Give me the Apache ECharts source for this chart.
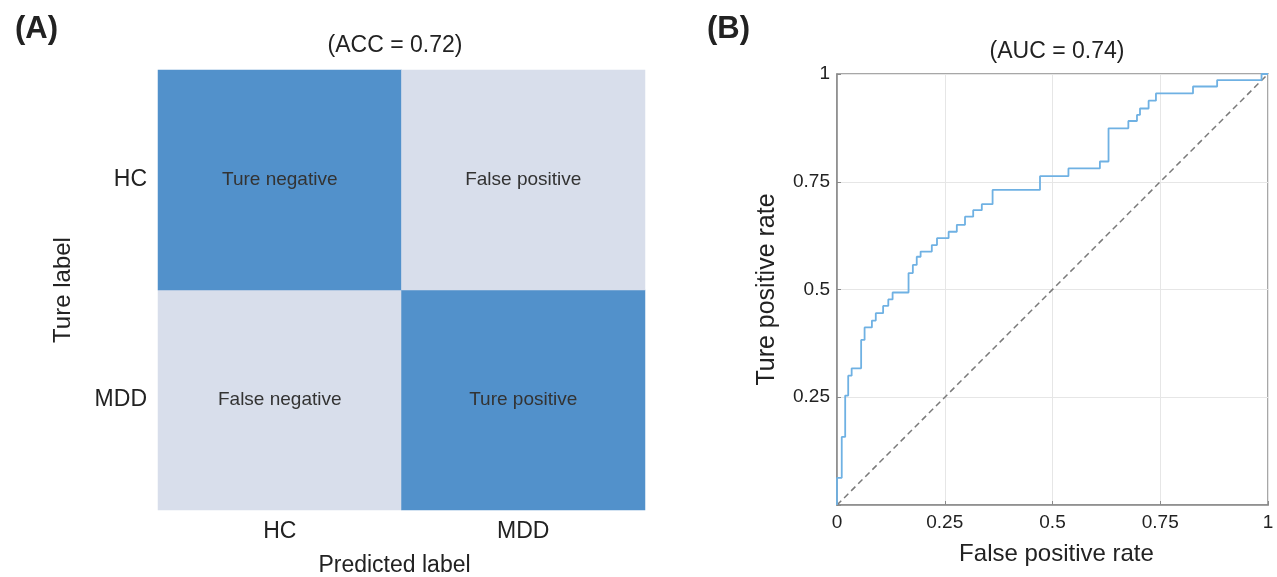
<!DOCTYPE html>
<html>
<head>
<meta charset="utf-8">
<script src="https://cdn.jsdelivr.net/npm/echarts@6/dist/echarts.min.js"></script>
<style>
  html, body { margin: 0; padding: 0; background: #fff; }
  #main { width: 1277px; height: 577px; }
</style>
</head>
<body>
<div id="main"></div>
<script>
// confusion matrix
var predLabels = ['HC', 'MDD'];
var trueLabels = ['MDD', 'HC'];          // bottom -> top
var cellNames = [
  ['False negative', 'Ture positive'],   // true MDD row
  ['Ture negative', 'False positive']    // true HC row
];
var cellValues = [
  [0, 1],
  [1, 0]
];

// ROC curve corner points
var fpr = [0, 0, 0.011, 0.019, 0.026, 0.034, 0.056, 0.064, 0.081, 0.090, 0.107, 0.119, 0.129,
  0.166, 0.176, 0.185, 0.194, 0.220, 0.232, 0.259, 0.278, 0.297, 0.316, 0.336, 0.361,
  0.471, 0.537, 0.610, 0.630, 0.676, 0.696, 0.703, 0.723, 0.740, 0.826, 0.882, 0.985, 1];
var tpr = [0, 0.063, 0.158, 0.254, 0.300, 0.317, 0.383, 0.412, 0.428, 0.445, 0.462, 0.477, 0.493,
  0.538, 0.557, 0.576, 0.588, 0.603, 0.619, 0.634, 0.650, 0.669, 0.684, 0.698, 0.731,
  0.763, 0.781, 0.797, 0.874, 0.891, 0.905, 0.920, 0.938, 0.955, 0.971, 0.986, 1.0, 1];
var rocTicks = [0, 0.25, 0.5, 0.75, 1];

var font = "'Liberation Sans', Arial, sans-serif";

var heatData = [];
for (var r = 0; r < trueLabels.length; r++) {
  for (var c = 0; c < predLabels.length; c++) {
    heatData.push({
      value: [c, r, cellValues[r][c]],
      name: cellNames[r][c],
      itemStyle: { color: cellValues[r][c] ? '#5291CB' : '#D8DEEB' }
    });
  }
}

var rocData = fpr.map(function (x, i) { return [x, tpr[i]]; });

var chartDom = document.getElementById('main');
var myChart = echarts.init(chartDom);
var option = {
  animation: false,
  textStyle: { fontFamily: font },
  title: [
    { text: '(A)', left: 10, top: 9, textStyle: { fontSize: 31, fontWeight: 'bold', color: '#222', fontFamily: font } },
    { text: '(B)', left: 702, top: 9, textStyle: { fontSize: 31, fontWeight: 'bold', color: '#222', fontFamily: font } },
    { text: '(ACC = 0.72)', left: 390, textAlign: 'center', top: 29, textStyle: { fontSize: 23, fontWeight: 'normal', color: '#222', fontFamily: font } },
    { text: '(AUC = 0.74)', left: 1052, textAlign: 'center', top: 35, textStyle: { fontSize: 23, fontWeight: 'normal', color: '#222', fontFamily: font } }
  ],
  grid: [
    { left: 158, top: 70, width: 487, height: 440, outerBoundsMode: 'none', containLabel: false },
    { left: 837, top: 74, width: 431, height: 431, outerBoundsMode: 'none', containLabel: false,
      show: true, borderColor: '#8a8a8a', borderWidth: 1.5 }
  ],
  xAxis: [
    {
      gridIndex: 0,
      type: 'category',
      data: predLabels,
      name: 'Predicted label',
      nameLocation: 'middle',
      nameGap: 44,
      nameTextStyle: { fontSize: 23, color: '#222', padding: [0, 14, 0, 0] },
      axisLine: { show: false },
      axisTick: { show: false },
      axisLabel: { fontSize: 23, color: '#222', margin: 10 }
    },
    {
      gridIndex: 1,
      type: 'value',
      min: 0,
      max: 1,
      interval: 0.25,
      name: 'False positive rate',
      nameLocation: 'middle',
      nameGap: 37,
      nameTextStyle: { fontSize: 24, color: '#222', padding: [0, 0, 0, 8] },
      axisLine: { show: true, lineStyle: { color: '#8a8a8a', width: 1.5 } },
      axisTick: { show: true, inside: true, length: 4, lineStyle: { color: '#8a8a8a' } },
      axisLabel: {
        fontSize: 19, color: '#222', margin: 8,
        formatter: function (v) { return rocTicks.indexOf(v) >= 0 ? String(v) : ''; }
      },
      splitLine: { show: true, lineStyle: { color: '#e6e6e6' } }
    }
  ],
  yAxis: [
    {
      gridIndex: 0,
      type: 'category',
      data: trueLabels,
      name: 'Ture label',
      nameLocation: 'middle',
      nameGap: 83,
      nameTextStyle: { fontSize: 24, color: '#222' },
      axisLine: { show: false },
      axisTick: { show: false },
      axisLabel: { fontSize: 23, color: '#222', margin: 11 }
    },
    {
      gridIndex: 1,
      type: 'value',
      min: 0,
      max: 1,
      interval: 0.25,
      name: 'Ture positive rate',
      nameLocation: 'middle',
      nameGap: 57,
      nameTextStyle: { fontSize: 25, color: '#222' },
      axisLine: { show: true, lineStyle: { color: '#8a8a8a', width: 1.5 } },
      axisTick: { show: true, inside: true, length: 4, lineStyle: { color: '#8a8a8a' } },
      axisLabel: {
        fontSize: 19, color: '#222', margin: 7,
        formatter: function (v) { return v === 0 ? '' : String(v); }
      },
      splitLine: { show: true, lineStyle: { color: '#e6e6e6' } }
    }
  ],
  series: [
    {
      type: 'heatmap',
      xAxisIndex: 0,
      yAxisIndex: 0,
      data: heatData,
      label: {
        show: true,
        fontSize: 19,
        color: '#333',
        formatter: function (p) { return p.name; }
      }
    },
    {
      type: 'line',
      xAxisIndex: 1,
      yAxisIndex: 1,
      data: [[0, 0], [1, 1]],
      symbol: 'none',
      lineStyle: { color: '#7a7a7a', width: 1.5, type: [6, 4] },
      z: 2
    },
    {
      type: 'line',
      xAxisIndex: 1,
      yAxisIndex: 1,
      data: rocData,
      step: 'end',
      symbol: 'none',
      lineStyle: { color: '#6FB1E3', width: 1.8 },
      z: 3
    }
  ]
};
myChart.setOption(option);
</script>
</body>
</html>
